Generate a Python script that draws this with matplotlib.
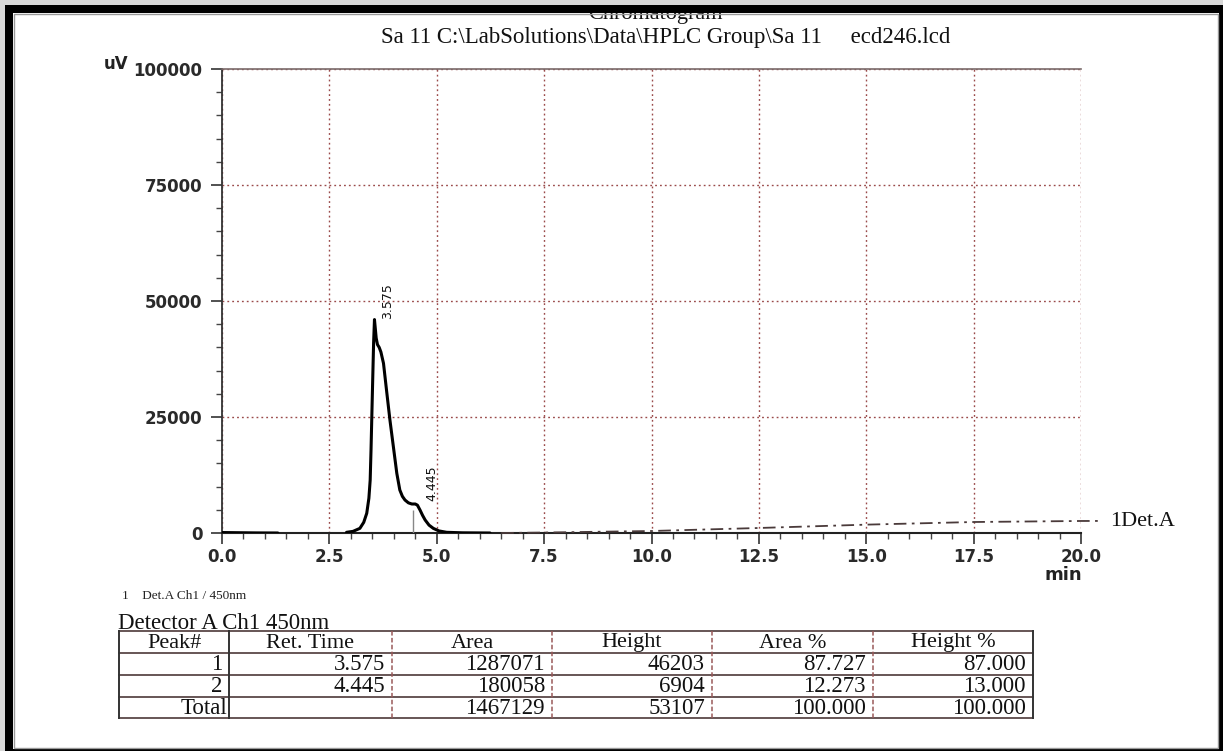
import numpy as np
import matplotlib
matplotlib.use("Agg")
import matplotlib.pyplot as plt
from matplotlib.patches import Rectangle
from matplotlib import font_manager

# ---------------- data ----------------
nan = np.nan
trace_time = [0.0, 0.4, 0.8, 1.3, nan,
              2.90, 3.05, 3.21, 3.30, 3.37, 3.42, 3.45, 3.47, 3.49, 3.51, 3.53, 3.55,
              3.57, 3.59, 3.62, 3.66, 3.70, 3.76, 3.83, 3.91, 3.99, 4.07, 4.14,
              4.20, 4.26, 4.34, 4.42, 4.50, 4.55, 4.61, 4.67, 4.73, 4.82, 4.92,
              5.05, 5.23, 5.60, 6.24]
trace_uv = [100, 60, 20, 0, nan,
            150, 350, 1000, 2300, 4250, 7500, 11400, 18000, 25800, 33500, 41000, 46000,
            44000, 42000, 40600, 40000, 39000, 36570, 30820, 24350, 18600, 12860, 9270,
            7900, 7110, 6500, 6250, 6250, 6000, 4960, 3800, 2800, 1700, 1000,
            450, 150, 40, 0]

drift_time = [6.5, 7.5, 10.0, 12.5, 15.0, 17.5, 20.0, 20.5]
drift_uv = [0, 100, 430, 1080, 1800, 2370, 2590, 2600]

x_ticks = [0.0, 2.5, 5.0, 7.5, 10.0, 12.5, 15.0, 17.5, 20.0]
y_ticks = [0, 25000, 50000, 75000, 100000]

ret_time_vals = [3.575, 4.445]
peak_heights = [46203, 6904]
drop_top = 5000

table_headers = ["Peak#", "Ret. Time", "Area", "Height", "Area %", "Height %"]
peak_ids = ["1", "2", "Total"]
ret_times = ["3.575", "4.445", ""]
areas = [1287071, 180058, 1467129]
heights = [46203, 6904, 53107]
area_pct = [87.727, 12.273, 100.000]
height_pct = [87.000, 13.000, 100.000]

title_top = "Chromatogram"
title_main = "Sa 11 C:\\LabSolutions\\Data\\HPLC Group\\Sa 11     ecd246.lcd"

# ---------------- figure ----------------
W, H = 1223, 751
fig = plt.figure(figsize=(W / 100, H / 100), dpi=100)
fig.patch.set_facecolor("white")

names = {f.name for f in font_manager.fontManager.ttflist}
serif = "Liberation Serif"
narrow = "Liberation Sans Narrow" if "Liberation Sans Narrow" in names else "DejaVu Sans"
sans = "DejaVu Sans"

ax_l, ax_r, ax_t, ax_b = 222, 1081, 69, 533
ax = fig.add_axes([ax_l / W, 1 - ax_b / H, (ax_r - ax_l) / W, (ax_b - ax_t) / H])
ax.set_xlim(0, 20)
ax.set_ylim(0, 100000)

grid_col = "#9a4a4a"
ax.grid(True, which="major", color=grid_col, linestyle=(0, (1.3, 2.2)), linewidth=1.0)
ax.set_xticks(x_ticks)
ax.set_xticklabels([f"{v:.1f}" for v in x_ticks])
ax.set_yticks(y_ticks)
ax.set_yticklabels([f"{v:d}" for v in y_ticks])
ax.set_xticks(np.arange(0, 20.01, 0.5), minor=True)
ax.set_yticks(np.arange(0, 100001, 5000), minor=True)
ax.tick_params(which="major", direction="out", length=8, width=1.2, color="#333333",
               labelsize=12, labelcolor="#2a2a2a")
ax.tick_params(axis="y", which="major", pad=6)
ax.tick_params(axis="x", which="major", pad=3)
ax.tick_params(which="minor", direction="out", length=4, width=1.0, color="#444444")
for lab in ax.get_xticklabels() + ax.get_yticklabels():
    lab.set_family(sans)
    lab.set_fontweight("bold")

ax.spines["left"].set_color("#333333")
ax.spines["left"].set_linewidth(1.3)
ax.spines["bottom"].set_color("#222222")
ax.spines["bottom"].set_linewidth(1.5)
ax.spines["top"].set_color("#7a6a6a")
ax.spines["top"].set_linewidth(1.2)
ax.spines["right"].set_visible(False)

ax.plot(trace_time, trace_uv, color="black", linewidth=2.2, zorder=4,
        solid_joinstyle="round", solid_capstyle="round")
ax.plot(drift_time, drift_uv, color="#4a3a3a", linewidth=1.3,
        linestyle=(0, (7, 3, 1.5, 3)), zorder=3, clip_on=False)
ax.vlines(ret_time_vals[1], 0, drop_top, color="#888888", linewidth=1.0, zorder=3)

for rt, h, dx in zip(ret_time_vals, peak_heights, [9, 14]):
    ax.annotate(f"{rt:.3f}", xy=(rt, h), xytext=(dx, 0), textcoords="offset points",
                rotation=90, ha="center", va="bottom", fontsize=9,
                family=narrow, color="#111111")

# ---------------- overlay (pixel coordinates) ----------------
ov = fig.add_axes([0, 0, 1, 1], zorder=10)
ov.set_xlim(0, W)
ov.set_ylim(H, 0)
ov.axis("off")
ov.patch.set_alpha(0)

# texts
ov.text(655, 15, title_top, ha="center", va="center", fontsize=16, family=serif, color="#111111")
ov.text(666, 37, title_main, ha="center", va="center", fontsize=16.5, family=serif, color="#111111")
ov.text(104, 64, "uV", ha="left", va="center", fontsize=12, family=sans, color="#222222",
        fontweight="bold")
ov.text(1082, 575, "min", ha="right", va="center", fontsize=13, family=sans,
        color="#222222", fontweight="bold")
ov.text(1110, 521, "1Det.A", ha="left", va="center", fontsize=16, family=serif, color="#111111")
ov.text(122, 596, "1    Det.A Ch1 / 450nm", ha="left", va="center", fontsize=9.5,
        family=serif, color="#222222")
ov.text(118, 629, "Detector A Ch1 450nm", ha="left", va="baseline", fontsize=16.5,
        family=serif, color="#111111")

# table
col_edges = [119, 229, 392, 552, 712, 873, 1033]
row_edges = [631, 653, 675, 697, 718]
line_col = "#5a4848"
for y in row_edges:
    ov.plot([col_edges[0], col_edges[-1]], [y, y], color=line_col, linewidth=1.3)
for i, x in enumerate(col_edges):
    if i in (0, 1, len(col_edges) - 1):
        ov.plot([x, x], [row_edges[0], row_edges[-1]], color="#333333", linewidth=1.4)
    else:
        ov.plot([x, x], [row_edges[0], row_edges[-1]], color="#9a5a5a", linewidth=1.1,
                linestyle=(0, (3, 1.5)))

for j, hdr in enumerate(table_headers):
    ov.text((col_edges[j] + col_edges[j + 1]) / 2, (row_edges[0] + row_edges[1]) / 2 + 1, hdr,
            ha="center", va="center", fontsize=16, family=serif, color="#111111")

rows = []
for i in range(3):
    rows.append([peak_ids[i], ret_times[i], f"{areas[i]:d}", f"{heights[i]:d}",
                 f"{area_pct[i]:.3f}", f"{height_pct[i]:.3f}"])
for i, row in enumerate(rows):
    yc = (row_edges[i + 1] + row_edges[i + 2]) / 2 + 1
    for j, val in enumerate(row):
        pad = 2 if (j == 0 and i == 2) else 7
        ov.text(col_edges[j + 1] - pad, yc, val, ha="right", va="center", fontsize=16.5,
                family=serif, color="#111111")

# outer scan frame
frame = "#000000"
ov.add_patch(Rectangle((0, 0), W, 5, color="#d8d8d8", lw=0, zorder=20))
ov.add_patch(Rectangle((0, 0), 5, H, color="#d8d8d8", lw=0, zorder=20))
ov.add_patch(Rectangle((5, 5), W - 5, 8, color=frame, lw=0, zorder=21))
ov.add_patch(Rectangle((5, 5), 8, H - 5, color=frame, lw=0, zorder=21))
ov.add_patch(Rectangle((1219, 5), 4, H - 5, color=frame, lw=0, zorder=21))
ov.add_patch(Rectangle((5, 749), W - 5, 2, color=frame, lw=0, zorder=21))
ov.add_patch(Rectangle((13.5, 13.5), 1218 - 13.5, 748 - 13.5, fill=False,
                       edgecolor="#999999", lw=1, zorder=21))

fig.savefig("out.png", dpi=100)
